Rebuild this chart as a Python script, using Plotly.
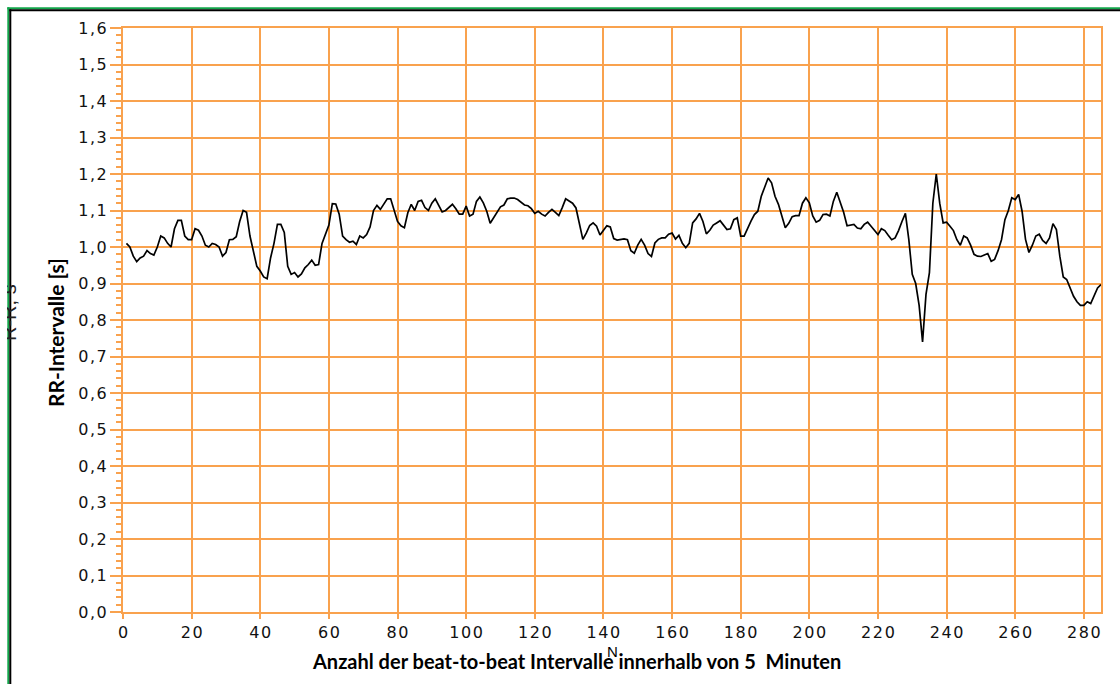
import plotly.graph_objects as go

# RR intervals (s) for each successive beat within the 5-minute recording
beat_no = list(range(1, 286))
rr_s = [
    1.010, 1.000, 0.975, 0.960, 0.970, 0.975, 0.990, 0.982, 0.978, 1.000,
    1.030, 1.025, 1.010, 1.000, 1.050, 1.073, 1.073, 1.030, 1.020, 1.020,
    1.050, 1.046, 1.030, 1.005, 1.000, 1.010, 1.007, 1.000, 0.975, 0.985,
    1.020, 1.021, 1.028, 1.070, 1.100, 1.095, 1.030, 0.988, 0.947, 0.934,
    0.918, 0.913, 0.970, 1.010, 1.062, 1.062, 1.040, 0.947, 0.925, 0.930,
    0.918, 0.926, 0.943, 0.952, 0.964, 0.950, 0.952, 1.010, 1.035, 1.060,
    1.119, 1.118, 1.090, 1.030, 1.020, 1.013, 1.016, 1.007, 1.030, 1.025,
    1.034, 1.055, 1.100, 1.114, 1.103, 1.117, 1.132, 1.132, 1.100, 1.070,
    1.058, 1.053, 1.094, 1.117, 1.100, 1.125, 1.128, 1.108, 1.100, 1.120,
    1.132, 1.115, 1.096, 1.100, 1.108, 1.117, 1.105, 1.090, 1.090, 1.112,
    1.085, 1.090, 1.125, 1.137, 1.121, 1.098, 1.065, 1.080, 1.094, 1.110,
    1.115, 1.132, 1.134, 1.134, 1.130, 1.123, 1.115, 1.113, 1.105, 1.092,
    1.098, 1.090, 1.085, 1.095, 1.103, 1.095, 1.086, 1.108, 1.132, 1.126,
    1.120, 1.107, 1.062, 1.021, 1.038, 1.059, 1.066, 1.057, 1.033, 1.045,
    1.058, 1.055, 1.023, 1.019, 1.021, 1.022, 1.020, 0.990, 0.983, 1.005,
    1.021, 1.005, 0.982, 0.974, 1.011, 1.021, 1.025, 1.025, 1.035, 1.038,
    1.022, 1.032, 1.010, 0.998, 1.010, 1.066, 1.077, 1.092, 1.070, 1.036,
    1.046, 1.060, 1.066, 1.072, 1.060, 1.048, 1.050, 1.075, 1.080, 1.030,
    1.030, 1.053, 1.071, 1.089, 1.098, 1.139, 1.162, 1.189, 1.176, 1.139,
    1.117, 1.085, 1.053, 1.065, 1.083, 1.086, 1.086, 1.120, 1.135, 1.121,
    1.085, 1.068, 1.073, 1.089, 1.090, 1.085, 1.125, 1.150, 1.121, 1.095,
    1.058, 1.060, 1.062, 1.052, 1.050, 1.062, 1.068, 1.057, 1.045, 1.034,
    1.050, 1.045, 1.032, 1.020, 1.025, 1.045, 1.070, 1.092, 1.020, 0.925,
    0.900, 0.840, 0.740, 0.870, 0.930, 1.120, 1.200, 1.120, 1.066, 1.068,
    1.057, 1.045, 1.020, 1.005, 1.030, 1.025, 1.005, 0.980, 0.975, 0.974,
    0.978, 0.982, 0.961, 0.966, 0.990, 1.020, 1.075, 1.100, 1.135, 1.130,
    1.144, 1.098, 1.021, 0.985, 1.005, 1.030, 1.035, 1.018, 1.010, 1.025,
    1.064, 1.048, 0.975, 0.918, 0.911, 0.888, 0.865, 0.850, 0.840, 0.840,
    0.850, 0.845, 0.865, 0.888, 0.897,
]

y_tick_vals = [0.0, 0.1, 0.2, 0.3, 0.4, 0.5, 0.6, 0.7, 0.8, 0.9, 1.0, 1.1, 1.2, 1.3, 1.4, 1.5, 1.6]
y_tick_labels = ["0,0", "0,1", "0,2", "0,3", "0,4", "0,5", "0,6", "0,7", "0,8",
                 "0,9", "1,0", "1,1", "1,2", "1,3", "1,4", "1,5", "1,6"]
x_tick_vals = [0, 20, 40, 60, 80, 100, 120, 140, 160, 180, 200, 220, 240, 260, 280]
x_tick_labels = ["0", "20", "40", "60", "80", "100", "120", "140", "160", "180",
                 "200", "220", "240", "260", "280"]

x_title = "Anzahl der beat-to-beat Intervalle innerhalb von 5\u00a0 Minuten"
y_title = "RR-Intervalle [s]"

W, H = 1120, 684
ML, MR, MT, MB = 123, 19, 28, 72
PW, PH = W - ML - MR, H - MT - MB

ORANGE = "#F9A24E"
GREEN = "#12A54A"
HAIR = "\u200a"


def spaced(s):
    return HAIR.join(list(s))


def px(x):
    return (x - ML) / PW


def py(y):
    return (H - MB - y) / PH


fig = go.Figure()
fig.add_trace(go.Scatter(
    x=beat_no, y=rr_s, mode="lines",
    line=dict(color="black", width=1.7),
    showlegend=False, hoverinfo="x+y",
))

tick_font = dict(family="DejaVu Sans, sans-serif", size=16, color="#111111")

fig.update_layout(
    width=W, height=H,
    margin=dict(l=ML, r=MR, t=MT, b=MB, pad=0),
    paper_bgcolor="white", plot_bgcolor="white",
    xaxis=dict(
        range=[0, 285], tickvals=x_tick_vals, ticktext=[spaced(t) for t in x_tick_labels],
        showgrid=True, gridcolor=ORANGE, gridwidth=2,
        showline=True, linecolor=ORANGE, linewidth=2, mirror=True,
        ticks="outside", ticklen=5, tickcolor=ORANGE, tickwidth=2,
        tickfont=tick_font, zeroline=False,
    ),
    yaxis=dict(
        range=[0, 1.6], tickvals=y_tick_vals, ticktext=[spaced(t) for t in y_tick_labels],
        showgrid=True, gridcolor=ORANGE, gridwidth=2,
        showline=True, linecolor=ORANGE, linewidth=2, mirror=True,
        ticks="outside", ticklen=11, tickcolor=ORANGE, tickwidth=2,
        tickfont=tick_font, zeroline=False,
        minor=dict(dtick=0.02, ticks="outside", ticklen=5, tickcolor=ORANGE,
                   tickwidth=1.5, showgrid=False),
    ),
)

# outer frame: green border with a thin dark inner line
fig.add_shape(type="line", xref="paper", yref="paper",
              x0=px(8.3), x1=px(8.3), y0=py(7.3), y1=py(H + 20),
              line=dict(color=GREEN, width=2))
fig.add_shape(type="line", xref="paper", yref="paper",
              x0=px(7.3), x1=px(W + 20), y0=py(8.3), y1=py(8.3),
              line=dict(color=GREEN, width=2))
fig.add_shape(type="line", xref="paper", yref="paper",
              x0=px(10.3), x1=px(10.3), y0=py(9.3), y1=py(H + 20),
              line=dict(color="black", width=2))
fig.add_shape(type="line", xref="paper", yref="paper",
              x0=px(9.3), x1=px(W + 20), y0=py(10.3), y1=py(10.3),
              line=dict(color="black", width=2))

fig.add_annotation(text="<b>" + x_title + "</b>", xref="paper", yref="paper",
                   x=px(576), y=py(661), xanchor="center", yanchor="middle",
                   showarrow=False, font=dict(family="Lato, sans-serif", size=20, color="black"))
fig.add_annotation(text="<b>" + y_title + "</b>", xref="paper", yref="paper",
                   x=px(55), y=py(333), xanchor="center", yanchor="middle",
                   textangle=-90, showarrow=False,
                   font=dict(family="Lato, sans-serif", size=21, color="black"))
fig.add_annotation(text="N", xref="paper", yref="paper",
                   x=px(612), y=py(651), xanchor="center", yanchor="middle",
                   showarrow=False,
                   font=dict(family="Liberation Sans, Arial, sans-serif", size=15, color="black"))
# old axis caption, partly hidden behind the frame
fig.add_annotation(text="R-R, s", xref="paper", yref="paper",
                   x=px(9), y=py(313), xanchor="center", yanchor="middle",
                   textangle=-90, showarrow=False,
                   font=dict(family="Liberation Sans, Arial, sans-serif", size=20, color="#222222"))
fig.add_annotation(text=" ", xref="paper", yref="paper",
                   x=px(0), y=py(313), xanchor="left", yanchor="middle",
                   width=7, height=110, bgcolor="white", borderpad=0, borderwidth=0,
                   showarrow=False)

fig.write_html("out.html")
